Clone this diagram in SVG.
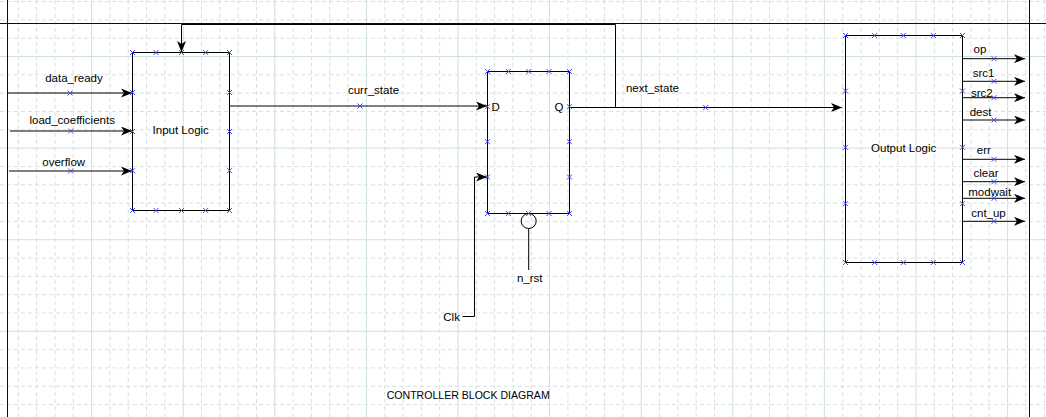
<svg xmlns="http://www.w3.org/2000/svg" width="1046" height="417" viewBox="0 0 1046 417">
<defs>
<style>
.gmin{stroke:#d6e2e1;stroke-width:1;stroke-dasharray:4 3;fill:none}
.gmaj{stroke:#cfe0de;stroke-width:1;fill:none}
.border{stroke:#000080;stroke-width:1;fill:none}
.box{fill:none;stroke:#000;stroke-width:1}
.wire{fill:none;stroke:#000;stroke-width:1}
.arr{marker-end:url(#ah)}
.pin{stroke:#4848f0;stroke-width:1;fill:none}
text{font-family:"Liberation Sans",Arial,sans-serif;font-size:11.5px;fill:#000}
.mid{text-anchor:middle}
</style>
<marker id="ah" markerUnits="userSpaceOnUse" markerWidth="11" markerHeight="9" refX="11" refY="4.5" orient="auto" viewBox="0 0 11 9">
<path d="M0,0 L11,4.5 L0,9 L3,4.5 z" fill="#000"/>
</marker>
<path id="x" d="M-2.5,-2.5 L2.5,2.5 M-2.5,2.5 L2.5,-2.5" class="pin"/>
</defs>
<rect width="1046" height="417" fill="#fff"/>
<g id="grid">
<path class="gmin" d="M18.32,0V417M36.64,0V417M54.96,0V417M73.28,0V417M109.92,0V417M128.24,0V417M146.56,0V417M164.88,0V417M201.52,0V417M219.84,0V417M238.16,0V417M256.48,0V417M293.12,0V417M311.44,0V417M329.76,0V417M348.08,0V417M384.72,0V417M403.04,0V417M421.36,0V417M439.68,0V417M476.32,0V417M494.64,0V417M512.96,0V417M531.28,0V417M567.92,0V417M586.24,0V417M604.56,0V417M622.88,0V417M659.52,0V417M677.84,0V417M696.16,0V417M714.48,0V417M751.12,0V417M769.44,0V417M787.76,0V417M806.08,0V417M842.72,0V417M861.04,0V417M879.36,0V417M897.68,0V417M934.32,0V417M952.64,0V417M970.96,0V417M989.28,0V417M1025.92,0V417M1044.24,0V417"/>
<path class="gmin" d="M0,1.54H1046M0,19.86H1046M0,38.18H1046M0,74.82H1046M0,93.14H1046M0,111.46H1046M0,129.78H1046M0,166.42H1046M0,184.74H1046M0,203.06H1046M0,221.38H1046M0,258.02H1046M0,276.34H1046M0,294.66H1046M0,312.98H1046M0,349.62H1046M0,367.94H1046M0,386.26H1046M0,404.58H1046"/>
<path class="gmaj" d="M91.6,0V417M183.2,0V417M274.8,0V417M366.4,0V417M458,0V417M549.6,0V417M641.2,0V417M732.8,0V417M824.4,0V417M916,0V417M1007.6,0V417M0,56.5H1046M0,148.1H1046M0,239.7H1046M0,331.3H1046"/>
</g>
<g id="frame">
<path class="border" d="M0,23.5H1046M7.5,0V417M1029.5,0V417"/>
</g>
<g id="connectors">
<path class="wire arr" d="M7,93H132"/>
<path class="wire arr" d="M10,131H132"/>
<path class="wire arr" d="M9,171H132"/>
<path class="wire arr" d="M230,106H487"/>
<path class="wire arr" d="M569,107.5H842"/>
<path class="wire arr" d="M615.5,107.5V24.5H181.5V52"/>
<path class="wire arr" d="M462.5,316.5H474.5V177H487"/>
<path class="wire" d="M528.7,228.5V270"/>
<path class="wire arr" d="M962,58.7H1025"/>
<path class="wire arr" d="M962,81.3H1025"/>
<path class="wire arr" d="M962,97.7H1025"/>
<path class="wire arr" d="M962,120H1025"/>
<path class="wire arr" d="M962,159.3H1025"/>
<path class="wire arr" d="M962,181.7H1025"/>
<path class="wire arr" d="M962,198.3H1025"/>
<path class="wire arr" d="M962,221.3H1025"/>
<use href="#x" x="70" y="93"/>
<use href="#x" x="70.7" y="131"/>
<use href="#x" x="70.7" y="171"/>
<use href="#x" x="360" y="106"/>
<use href="#x" x="705.7" y="107.5"/>
<use href="#x" x="994" y="58.7"/>
<use href="#x" x="994" y="81.3"/>
<use href="#x" x="994" y="97.7"/>
<use href="#x" x="994" y="120"/>
<use href="#x" x="994" y="159.3"/>
<use href="#x" x="994" y="181.7"/>
<use href="#x" x="994" y="198.3"/>
<use href="#x" x="994" y="221.3"/>
<text class="mid" x="74" y="81.7">data_ready</text>
<text class="mid" x="72.2" y="124">load_coefficients</text>
<text class="mid" x="63.7" y="165.5">overflow</text>
<text class="mid" x="373.5" y="94">curr_state</text>
<text class="mid" x="652.5" y="91.5">next_state</text>
<text x="443.3" y="320.7">Clk</text>
<text class="mid" x="529.7" y="282">n_rst</text>
<text class="mid" x="980" y="52.5">op</text>
<text class="mid" x="983.5" y="76.5">src1</text>
<text class="mid" x="981.8" y="96.5">src2</text>
<text class="mid" x="980.5" y="116">dest</text>
<text class="mid" x="983.8" y="154">err</text>
<text class="mid" x="986" y="177">clear</text>
<text class="mid" x="989.7" y="195.5">modwait</text>
<text class="mid" x="988.5" y="217">cnt_up</text>
</g>
<g id="input-logic">
<rect class="box" x="132.5" y="52.5" width="97" height="158"/>
<use href="#x" x="132.5" y="52.5"/><use href="#x" x="156" y="52.5"/><use href="#x" x="181.5" y="52.5"/><use href="#x" x="205.7" y="52.5"/><use href="#x" x="229.5" y="52.5"/>
<use href="#x" x="132.5" y="210.5"/><use href="#x" x="156" y="210.5"/><use href="#x" x="181.5" y="210.5"/><use href="#x" x="205.7" y="210.5"/><use href="#x" x="229.5" y="210.5"/>
<use href="#x" x="132.5" y="92.5"/><use href="#x" x="132.5" y="131.5"/><use href="#x" x="132.5" y="170.7"/>
<use href="#x" x="229.5" y="92.5"/><use href="#x" x="229.5" y="131.5"/><use href="#x" x="229.5" y="170.7"/>
<text class="mid" x="180.7" y="134.2" font-size="12">Input Logic</text>
</g>
<g id="flip-flop">
<rect class="box" x="487.5" y="71.5" width="82" height="142"/>
<circle class="box" cx="528.7" cy="221" r="7.5"/>
<use href="#x" x="487.5" y="71.5"/><use href="#x" x="508.3" y="71.5"/><use href="#x" x="528.7" y="71.5"/><use href="#x" x="549" y="71.5"/><use href="#x" x="569.5" y="71.5"/>
<use href="#x" x="487.5" y="213.5"/><use href="#x" x="508.3" y="213.5"/><use href="#x" x="528.7" y="213.5"/><use href="#x" x="549" y="213.5"/><use href="#x" x="569.5" y="213.5"/>
<use href="#x" x="487.5" y="106.7"/><use href="#x" x="487.5" y="141.7"/><use href="#x" x="487.5" y="177"/>
<use href="#x" x="569.5" y="106.7"/><use href="#x" x="569.5" y="141.7"/><use href="#x" x="569.5" y="177"/>
<text x="491.5" y="111" font-size="12">D</text>
<text x="554.5" y="111" font-size="12">Q</text>
</g>
<g id="output-logic">
<rect class="box" x="845.5" y="35.5" width="117" height="227"/>
<use href="#x" x="845.5" y="35.5"/><use href="#x" x="874.7" y="35.5"/><use href="#x" x="903.3" y="35.5"/><use href="#x" x="933.3" y="35.5"/><use href="#x" x="962.5" y="35.5"/>
<use href="#x" x="845.5" y="262.5"/><use href="#x" x="874.7" y="262.5"/><use href="#x" x="903.3" y="262.5"/><use href="#x" x="933.3" y="262.5"/><use href="#x" x="962.5" y="262.5"/>
<use href="#x" x="845.5" y="91"/><use href="#x" x="845.5" y="147.3"/><use href="#x" x="845.5" y="203.7"/>
<use href="#x" x="962.5" y="91"/><use href="#x" x="962.5" y="147.3"/><use href="#x" x="962.5" y="203.7"/>
<text class="mid" x="903.7" y="151.5" font-size="12">Output Logic</text>
</g>
<g id="caption">
<text x="386.7" y="399.3" textLength="163" lengthAdjust="spacingAndGlyphs">CONTROLLER BLOCK DIAGRAM</text>
</g>
</svg>
